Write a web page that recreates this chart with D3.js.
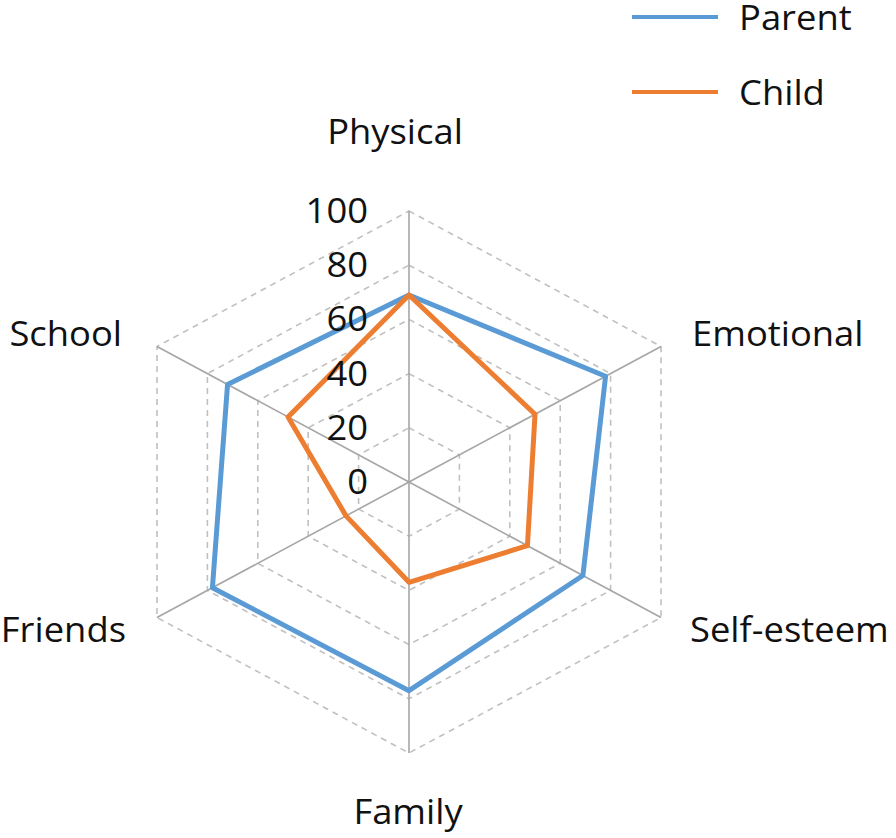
<!DOCTYPE html>
<html>
<head>
<meta charset="utf-8">
<script src="https://cdn.jsdelivr.net/npm/d3@7"></script>
<style>
  body { margin: 0; background: #fff; }
  svg text { font-family: "Open Sans", sans-serif; fill: #111; font-size: 34px; }
</style>
</head>
<body>
<div id="chart"></div>
<script>
// chart data
const categories = ["Physical", "Emotional", "Self-esteem", "Family", "Friends", "School"];
const parentValues = [69, 78, 69, 77, 78, 72];
const childValues = [69, 50, 47, 37, 25, 48];
const tickValues = [0, 20, 40, 60, 80, 100];
const seriesNames = ["Parent", "Child"];
const seriesColors = ["#5b9bd5", "#ed7d31"];

const width = 896, height = 838;
const cx = 409, cy = 482;
const stretch = 1.07; // the original picture is a bit wider than tall

const svg = d3.select("#chart").append("svg")
    .attr("width", width)
    .attr("height", height);

// radial scales
const ry = d3.scaleLinear().domain([0, 100]).range([0, 271]);
const rx = d3.scaleLinear().domain([0, 100]).range([0, 291]);
const angle = d3.scalePoint().domain(categories).range([0, 2 * Math.PI * 5 / 6]);

function pt(cat, v) {
    const a = angle(cat);
    return [cx + rx(v) * Math.sin(a), cy - ry(v) * Math.cos(a)];
}

function place(x, y) {
    return "translate(" + x + "," + y + ") scale(" + stretch + ",1)";
}

// rings
const ringLine = d3.line().curve(d3.curveLinearClosed);
svg.append("g").selectAll("path.ring")
    .data(tickValues.slice(1))
    .join("path")
    .attr("class", "ring")
    .attr("d", v => ringLine(categories.map(c => pt(c, v))))
    .attr("fill", "none")
    .attr("stroke", "#c0c0c0")
    .attr("stroke-width", 1.6)
    .attr("stroke-dasharray", "6,5");

// spokes
svg.append("g").selectAll("line.spoke")
    .data(categories)
    .join("line")
    .attr("class", "spoke")
    .attr("x1", cx).attr("y1", cy)
    .attr("x2", c => pt(c, 100)[0])
    .attr("y2", c => pt(c, 100)[1])
    .attr("stroke", "#a6a6a6")
    .attr("stroke-width", 1.6);

// series
const seriesData = [parentValues, childValues];
svg.append("g").selectAll("path.series")
    .data(seriesData)
    .join("path")
    .attr("class", "series")
    .attr("d", vals => ringLine(categories.map((c, i) => pt(c, vals[i]))))
    .attr("fill", "none")
    .attr("stroke", (d, i) => seriesColors[i])
    .attr("stroke-width", 5)
    .attr("stroke-linejoin", "round");

// tick labels
svg.append("g").selectAll("text.tick")
    .data(tickValues)
    .join("text")
    .attr("class", "tick")
    .attr("transform", v => place(368, cy - ry(v) + 3))
    .attr("text-anchor", "end")
    .attr("dominant-baseline", "middle")
    .text(d => d);

// category labels
const labelPos = {
    "Physical": { x: 395, y: 135, anchor: "middle" },
    "Emotional": { x: 692, y: 337, anchor: "start" },
    "Self-esteem": { x: 690, y: 633, anchor: "start" },
    "Family": { x: 408, y: 815, anchor: "middle" },
    "Friends": { x: 126, y: 633, anchor: "end" },
    "School": { x: 122, y: 337, anchor: "end" }
};
svg.append("g").selectAll("text.cat")
    .data(categories)
    .join("text")
    .attr("class", "cat")
    .attr("transform", c => place(labelPos[c].x, labelPos[c].y))
    .attr("text-anchor", c => labelPos[c].anchor)
    .attr("dominant-baseline", "middle")
    .text(c => c);

// legend
const legend = svg.append("g").selectAll("g.legend")
    .data(seriesNames)
    .join("g")
    .attr("class", "legend")
    .attr("transform", (d, i) => "translate(632," + (17 + i * 75) + ")");
legend.append("line")
    .attr("x1", 0).attr("x2", 86)
    .attr("stroke", (d, i) => seriesColors[i])
    .attr("stroke-width", 4);
legend.append("text")
    .attr("transform", place(107, 4))
    .attr("dominant-baseline", "middle")
    .text(d => d);
</script>
</body>
</html>
